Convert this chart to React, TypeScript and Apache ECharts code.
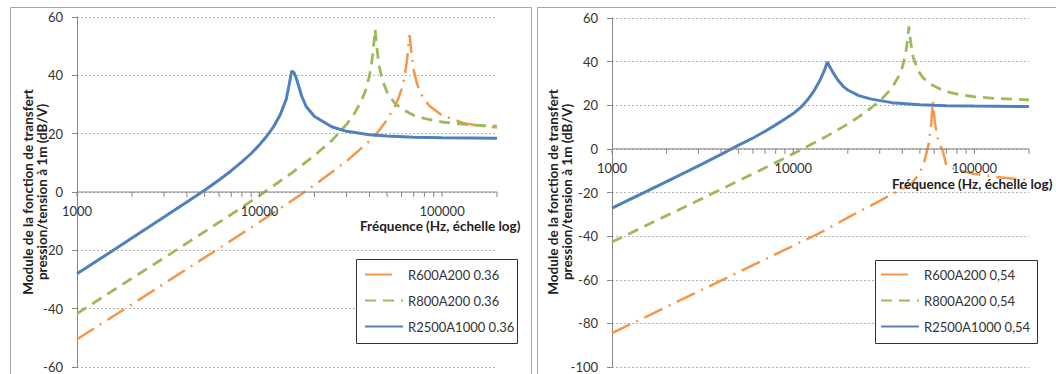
import React, { useEffect, useRef } from 'react';
import * as echarts from 'echarts';

// ---------- Data ----------
// Left panel (0.36)
const leftOrangeName = 'R600A200 0.36';
const leftOrangeFreq = [1000, 2000, 3000, 5000, 7000, 10000, 15000, 20000, 30000, 40000, 45000, 50000, 55000, 58000, 60000, 62000, 64000, 65000, 66400, 68000, 70000, 73000, 77000, 85000, 100000, 130000, 160000, 200000];
const leftOrangeDb = [-50.5, -38.5, -31.4, -22.5, -16.6, -10.3, -3.0, 2.4, 10.6, 17.5, 21.0, 24.7, 29.2, 32.5, 35.3, 38.9, 44.2, 48.2, 53.8, 47.6, 41.7, 37.0, 33.4, 29.6, 26.3, 23.7, 22.7, 22.1];

const leftGreenName = 'R800A200 0.36';
const leftGreenFreq = [1000, 2000, 3000, 5000, 7000, 10000, 15000, 20000, 25000, 30000, 33000, 36000, 38000, 40000, 41000, 42000, 43000, 44000, 45000, 47000, 50000, 55000, 60000, 70000, 80000, 100000, 150000, 200000];
const leftGreenDb = [-41.7, -29.6, -22.6, -13.6, -7.7, -1.2, 6.5, 12.5, 17.8, 23.2, 26.8, 31.0, 34.6, 39.7, 43.4, 48.9, 55.8, 49.2, 43.9, 38.5, 34.2, 30.5, 28.5, 26.3, 25.2, 24.0, 22.9, 22.6];

const leftBlueName = 'R2500A1000 0.36';
const leftBlueFreq = [1000, 1500, 2000, 3000, 4000, 5000, 6000, 7000, 8000, 9000, 10000, 11000, 12000, 13000, 14000, 14500, 15000, 15500, 16000, 17000, 18000, 20000, 25000, 30000, 40000, 50000, 70000, 100000, 200000];
const leftBlueDb = [-28.0, -20.9, -15.8, -8.6, -3.4, 0.6, 4.1, 7.3, 10.3, 13.2, 16.2, 19.3, 22.6, 26.6, 31.8, 36.5, 41.5, 40.8, 38.5, 33.0, 29.3, 25.9, 22.3, 20.8, 19.6, 19.2, 18.8, 18.6, 18.4];

// Right panel (0,54)
const rightOrangeName = 'R600A200 0,54';
const rightOrangeFreq = [1000, 2000, 3000, 5000, 7000, 10000, 15000, 20000, 30000, 35000, 40000, 45000, 50000, 53000, 56000, 57500, 59000, 60500, 63000, 67000, 70000, 80000, 100000, 130000, 160000, 200000];
const rightOrangeDb = [-84.5, -72.4, -65.4, -56.5, -50.6, -44.4, -37.3, -31.5, -23.8, -20.8, -18.4, -16.0, -11.0, -5.5, 2.5, 10.0, 22.0, 12.0, 4.0, -1.2, -7.5, -9.8, -11.5, -12.8, -13.6, -14.2];

const rightGreenName = 'R800A200 0,54';
const rightGreenFreq = [1000, 2000, 3000, 5000, 7000, 10000, 15000, 20000, 25000, 30000, 33000, 36000, 38000, 40000, 41500, 42500, 43500, 44500, 46000, 49000, 52000, 57000, 65000, 73000, 85000, 100000, 130000, 160000, 200000];
const rightGreenDb = [-42.7, -30.6, -23.6, -14.6, -8.7, -2.2, 5.4, 11.4, 16.7, 22.0, 25.5, 29.6, 33.0, 37.5, 42.7, 48.3, 56.1, 48.8, 41.8, 35.7, 32.6, 29.8, 27.3, 25.9, 24.7, 23.9, 23.1, 22.8, 22.5];

const rightBlueName = 'R2500A1000 0,54';
const rightBlueFreq = [1000, 1500, 2000, 3000, 4000, 5000, 6000, 7000, 8000, 9000, 10000, 11000, 12000, 13000, 14000, 15000, 15400, 16000, 16500, 17500, 19000, 20000, 23000, 27000, 35000, 50000, 70000, 100000, 200000];
const rightBlueDb = [-27.2, -20.1, -15.0, -7.8, -2.5, 1.7, 5.0, 8.1, 11.0, 13.7, 16.2, 19.0, 22.5, 26.5, 31.2, 36.8, 39.8, 37.3, 35.3, 31.9, 28.4, 27.0, 24.4, 22.8, 21.2, 20.2, 19.8, 19.6, 19.4];

// Axes
const xTickFreqs = [1000, 2000, 3000, 4000, 5000, 6000, 7000, 8000, 9000, 10000, 20000, 30000, 40000, 50000, 60000, 70000, 80000, 90000, 100000, 200000];
const xLabelFreqs = [1000, 10000, 100000];
const xMin = 1000;
const xMax = 200000;
const leftYMin = -60;
const leftYMax = 60;
const rightYMin = -100;
const rightYMax = 60;
const yStep = 20;

const yTitle = 'Module de la fonction de transfert\npression/tension à 1m (dB/V)';
const xTitle = 'Fréquence (Hz, échelle log)';

const ORANGE = '#F79646';
const GREEN = '#9BBB59';
const BLUE = '#4F81BD';
const AXIS = '#868686';
const TEXT = '#333333';
const FONT = 'Lato';

const pairs = (f: number[], v: number[]) => f.map((x, i) => [x, v[i]]);

export default function App() {
  const ref = useRef<HTMLDivElement>(null);
  useEffect(() => {
    const chart = echarts.init(ref.current!, null, { renderer: 'svg' });

    const xAxisCfg = (gridIndex: number) => ({
      gridIndex,
      type: 'log',
      logBase: 10,
      min: xMin,
      max: xMax,
      axisLine: { show: false },
      axisTick: { show: false },
      splitLine: { show: false },
      axisLabel: { show: false },
    });

    const yAxisCfg = (gridIndex: number, min: number, max: number) => ({
      gridIndex,
      type: 'value',
      min,
      max,
      interval: yStep,
      axisLine: { show: true, onZero: false, lineStyle: { color: AXIS, width: 1 } },
      axisTick: { show: true, length: 5, lineStyle: { color: AXIS } },
      splitLine: { show: true, lineStyle: { color: '#b4b4b4', type: [2, 2], width: 1 } },
      axisLabel: { margin: 14, fontFamily: FONT, fontSize: 13, color: TEXT },
    });

    const orangeStyle = { color: ORANGE, width: 2.5, type: [20, 7, 2, 7] };
    const greenStyle = { color: GREEN, width: 2.8, type: [11, 7] };
    const blueStyle = { color: BLUE, width: 3, type: 'solid' };

    const lineSeries = (name: string, f: number[], v: number[], idx: number, ls: any, color: string) => ({
      type: 'line',
      name,
      xAxisIndex: idx,
      yAxisIndex: idx,
      data: pairs(f, v),
      symbol: 'none',
      smooth: false,
      color,
      lineStyle: ls,
      silent: true,
      z: 2,
    });

    // x axis line along y = 0
    const axisLineSeries = (idx: number) => ({
      type: 'custom',
      xAxisIndex: idx,
      yAxisIndex: idx,
      silent: true,
      z: 3,
      data: [[xMin, xMax]],
      renderItem: (params: any, api: any) => {
        const a = api.coord([api.value(0), 0]);
        const b = api.coord([api.value(1), 0]);
        return {
          type: 'line',
          shape: { x1: a[0], y1: a[1], x2: b[0], y2: b[1] },
          style: { stroke: AXIS, lineWidth: 1 },
        };
      },
    });

    const tickSeries = (idx: number) => ({
      type: 'custom',
      xAxisIndex: idx,
      yAxisIndex: idx,
      silent: true,
      z: 3,
      data: xTickFreqs.map((f) => [f, 0]),
      renderItem: (params: any, api: any) => {
        const p = api.coord([api.value(0), 0]);
        return {
          type: 'line',
          shape: { x1: p[0], y1: p[1], x2: p[0], y2: p[1] + 5 },
          style: { stroke: AXIS, lineWidth: 1 },
        };
      },
    });

    const labelSeries = (idx: number) => ({
      type: 'custom',
      xAxisIndex: idx,
      yAxisIndex: idx,
      silent: true,
      z: 3,
      data: xLabelFreqs.map((f) => [f, 0]),
      renderItem: (params: any, api: any) => {
        const f = api.value(0);
        const p = api.coord([f, 0]);
        return {
          type: 'text',
          x: p[0],
          y: p[1] + 19,
          style: {
            text: String(Math.round(f)),
            fontFamily: FONT,
            fontSize: 13,
            fill: TEXT,
            textAlign: 'center',
            textVerticalAlign: 'middle',
          },
        };
      },
    });

    const legendCfg = (names: string[], left: number) => ({
      data: [
        { name: names[0], lineStyle: { type: [27, 40] } },
        { name: names[1] },
        { name: names[2] },
      ],
      orient: 'vertical',
      left,
      top: 268,
      padding: 0,
      itemWidth: 38,
      itemHeight: 14,
      itemGap: 13,
      itemStyle: { opacity: 0 },
      textStyle: { fontFamily: FONT, fontSize: 13, color: TEXT },
      selectedMode: false,
      z: 10,
    });

    const titleStyle = { fontFamily: FONT, fontSize: 13.5, fontWeight: 'bold', fill: '#222' };

    const option: any = {
      animation: false,
      backgroundColor: '#ffffff',
      grid: [
        { left: 77, top: 17, width: 420, height: 350, containLabel: false, outerBoundsMode: 'none' },
        { left: 612, top: 18, width: 417, height: 349, containLabel: false, outerBoundsMode: 'none' },
      ],
      xAxis: [xAxisCfg(0), xAxisCfg(1)],
      yAxis: [yAxisCfg(0, leftYMin, leftYMax), yAxisCfg(1, rightYMin, rightYMax)],
      legend: [
        legendCfg([leftOrangeName, leftGreenName, leftBlueName], 364),
        legendCfg([rightOrangeName, rightGreenName, rightBlueName], 880),
      ],
      graphic: [
        { type: 'rect', z: -1, shape: { x: 10.5, y: 7.5, width: 521, height: 400 }, style: { fill: 'none', stroke: '#a6a6a6', lineWidth: 1 } },
        { type: 'rect', z: -1, shape: { x: 537.5, y: 7.5, width: 540, height: 400 }, style: { fill: 'none', stroke: '#a6a6a6', lineWidth: 1 } },
        { type: 'rect', z: 8, shape: { x: 356.5, y: 259.5, width: 161, height: 84 }, style: { fill: '#ffffff', stroke: '#333333', lineWidth: 1 } },
        { type: 'rect', z: 8, shape: { x: 875.5, y: 260.5, width: 162, height: 83 }, style: { fill: '#ffffff', stroke: '#333333', lineWidth: 1 } },
        {
          type: 'text', x: 35, y: 192, rotation: Math.PI / 2, z: 10,
          style: { ...titleStyle, text: yTitle, textAlign: 'center', textVerticalAlign: 'middle', lineHeight: 14 },
        },
        {
          type: 'text', x: 560, y: 192, rotation: Math.PI / 2, z: 10,
          style: { ...titleStyle, text: yTitle, textAlign: 'center', textVerticalAlign: 'middle', lineHeight: 14 },
        },
        {
          type: 'text', x: 360, y: 226, z: 10,
          style: { ...titleStyle, text: xTitle, textAlign: 'left', textVerticalAlign: 'middle' },
        },
        {
          type: 'text', x: 892, y: 184, z: 10,
          style: { ...titleStyle, text: xTitle, textAlign: 'left', textVerticalAlign: 'middle' },
        },
      ],
      series: [
        lineSeries(leftOrangeName, leftOrangeFreq, leftOrangeDb, 0, orangeStyle, ORANGE),
        lineSeries(leftGreenName, leftGreenFreq, leftGreenDb, 0, greenStyle, GREEN),
        lineSeries(leftBlueName, leftBlueFreq, leftBlueDb, 0, blueStyle, BLUE),
        lineSeries(rightOrangeName, rightOrangeFreq, rightOrangeDb, 1, orangeStyle, ORANGE),
        lineSeries(rightGreenName, rightGreenFreq, rightGreenDb, 1, greenStyle, GREEN),
        lineSeries(rightBlueName, rightBlueFreq, rightBlueDb, 1, blueStyle, BLUE),
        axisLineSeries(0),
        axisLineSeries(1),
        tickSeries(0),
        tickSeries(1),
        labelSeries(0),
        labelSeries(1),
      ],
    };

    chart.setOption(option);
    return () => chart.dispose();
  }, []);

  return (
    <div
      ref={ref}
      style={{ position: 'absolute', left: 0, top: 0, width: 1056, height: 374, background: '#fff' }}
    />
  );
}
